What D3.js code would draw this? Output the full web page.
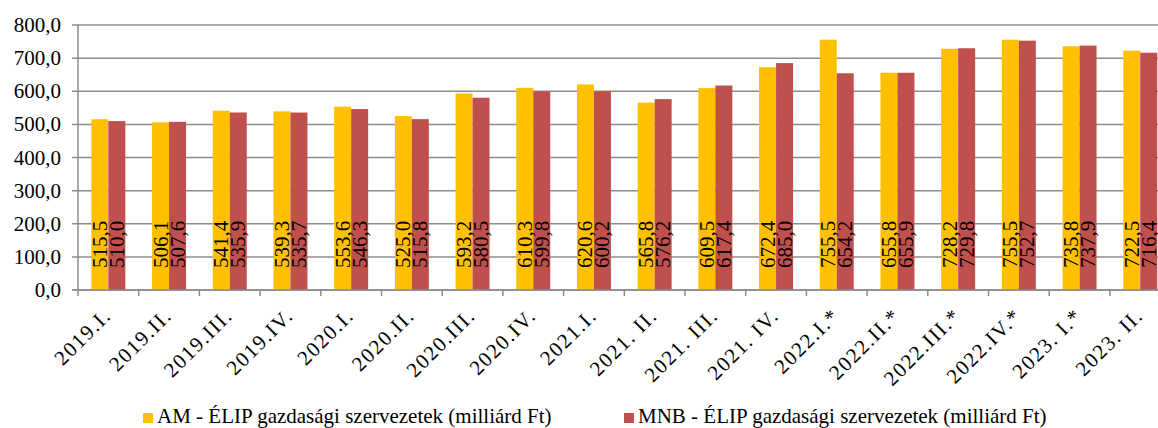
<!DOCTYPE html>
<html><head><meta charset="utf-8">
<script src="https://cdn.jsdelivr.net/npm/d3@7"></script>
<style>
html,body{margin:0;padding:0;background:#fff;}
svg{display:block;font-family:"Liberation Serif","Times New Roman",serif;}
</style></head>
<body><svg id="chart" width="1158" height="428"></svg>
<script>
const categories = ["2019.I.","2019.II.","2019.III.","2019.IV.","2020.I.","2020.II.","2020.III.","2020.IV.","2021.I.","2021. II.","2021. III.","2021. IV.","2022.I.*","2022.II.*","2022.III.*","2022.IV.*","2023. I.*","2023. II."];
const amValues = [515.5,506.1,541.4,539.3,553.6,525.0,593.2,610.3,620.6,565.8,609.5,672.4,755.5,655.8,728.2,755.5,735.8,722.5];
const mnbValues = [510.0,507.6,535.9,535.7,546.3,515.8,580.5,599.8,600.2,576.2,617.4,685.0,654.2,655.9,729.8,752.7,737.9,716.4];
const seriesNames = ["AM - ÉLIP gazdasági szervezetek (milliárd Ft)","MNB - ÉLIP gazdasági szervezetek (milliárd Ft)"];
const seriesColors = ["#FFC000","#C0504D"];
const yTicks = [0,100,200,300,400,500,600,700,800];

(function(){
const svg = d3.select("#chart");
const pL = 78, pR = 1170.6, pT = 25, pB = 290;
const fmt = v => v.toFixed(1).replace(".", ",");

const x = d3.scaleBand().domain(categories).range([pL, pR]).paddingInner(0.44).paddingOuter(0.22);
const xs = d3.scaleBand().domain([0,1]).range([0, x.bandwidth()]);
const y = d3.scaleLinear().domain([0,800]).range([pB, pT]);

svg.append("g").selectAll("line").data(yTicks).join("line")
  .attr("x1", pL - 6).attr("x2", 1158)
  .attr("y1", d => y(d)).attr("y2", d => y(d))
  .attr("stroke", "#8c8c8c").attr("stroke-width", 1.5);

svg.append("g").selectAll("text").data(yTicks).join("text")
  .attr("x", 61).attr("y", d => y(d) + 7)
  .attr("text-anchor", "end").attr("font-size", 21).attr("fill", "#000")
  .text(d => fmt(d));

const series = [amValues, mnbValues];
series.forEach((vals, si) => {
  svg.append("g").selectAll("rect").data(vals).join("rect")
    .attr("x", (d, i) => x(categories[i]) + xs(si))
    .attr("width", xs.bandwidth())
    .attr("y", d => y(d))
    .attr("height", d => y(0) - y(d))
    .attr("fill", seriesColors[si]);
});

svg.append("line").attr("x1", pL).attr("x2", pL).attr("y1", pT).attr("y2", pB)
  .attr("stroke", "#8c8c8c").attr("stroke-width", 1.5);
svg.append("line").attr("x1", pL - 6).attr("x2", 1158).attr("y1", pB).attr("y2", pB)
  .attr("stroke", "#8c8c8c").attr("stroke-width", 1.5);
const bounds = categories.map((c, i) => pL + i * x.step());
svg.append("g").selectAll("line").data(bounds).join("line")
  .attr("x1", d => d).attr("x2", d => d).attr("y1", pB).attr("y2", pB + 6)
  .attr("stroke", "#8c8c8c").attr("stroke-width", 1.5);

series.forEach((vals, si) => {
  svg.append("g").selectAll("text").data(vals).join("text")
    .attr("transform", (d, i) => {
      const cx = x(categories[i]) + xs(si) + xs.bandwidth() / 2 + 7;
      return `translate(${cx},268) rotate(-90)`;
    })
    .attr("font-size", 21).attr("fill", "#000")
    .text(d => fmt(d));
});

svg.append("g").selectAll("text").data(categories).join("text")
  .attr("transform", d => `translate(${x(d) + x.bandwidth()/2 + 4},317) rotate(-45)`)
  .attr("text-anchor", "end").attr("font-size", 21).attr("letter-spacing", 1.5).attr("fill", "#000")
  .text(d => d);

const legendX = [143, 624];
seriesNames.forEach((n, i) => {
  svg.append("rect").attr("x", legendX[i]).attr("y", 413).attr("width", 10).attr("height", 10).attr("fill", seriesColors[i]);
  svg.append("text").attr("x", legendX[i] + 14).attr("y", 423).attr("font-size", 21).attr("fill", "#000").text(n);
});
})();
</script></body></html>
